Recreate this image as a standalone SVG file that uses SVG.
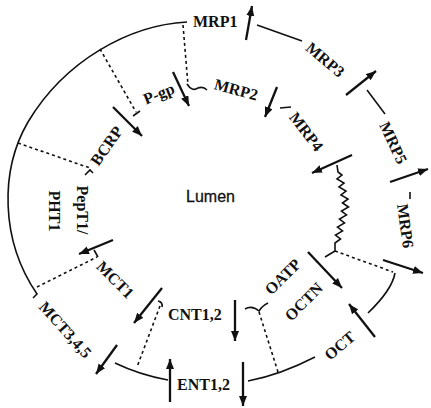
<svg xmlns="http://www.w3.org/2000/svg" width="431" height="408" viewBox="0 0 431 408">
<defs>
<style>
.lbl{font-family:"Liberation Serif","Times New Roman",serif;font-weight:bold;font-size:16px;fill:#111}
.ln{fill:none;stroke:#111;stroke-width:1.6}
.dash{fill:none;stroke:#111;stroke-width:1.6;stroke-dasharray:3 3}
.arr{fill:none;stroke:#111;stroke-width:2.3;marker-end:url(#ah)}
</style>
<marker id="ah" markerUnits="userSpaceOnUse" markerWidth="12" markerHeight="10" refX="10" refY="4" orient="auto">
<path d="M0,0 L10,4 L0,8 Z" fill="#111"/>
</marker>
</defs>
<rect width="431" height="408" fill="#fff"/>
<g id="connectors">
<path class="ln" d="M187,22 C130,25 65,60 28,122 C0,170 0,240 37,294 L33,298"/>
<path class="ln" d="M257,25 L302,41"/>
<path class="ln" d="M367,90 L385,114"/>
<path class="ln" d="M410,192 L410,199"/>
<path class="ln" d="M280,108 L291,107"/>
<path class="ln" d="M395,273 Q392,290 368,313"/>
<path class="ln" d="M315,357 Q280,375 248,381"/>
<path class="ln" d="M115,363 Q140,375 168,380"/>
<path class="dash" d="M100,49 L136,112"/>
<path class="ln" d="M133,116 L140,111"/>
<path class="dash" d="M183,25 L188,85"/>
<path class="ln" d="M187,84 Q192,92 198,88 Q203,86 207,90"/>
<path class="dash" d="M18,143 L90,168"/>
<path class="ln" d="M85,175 L90,170 L93,173"/>
<path class="dash" d="M37,287 L97,257"/>
<path class="ln" d="M94,250 L98,257"/>
<path class="dash" d="M160,306 L137,367"/>
<path class="ln" d="M158,301 Q163,302 162,307"/>
<path class="dash" d="M259,312 L278,372"/>
<path class="ln" d="M245,309 Q252,305 259,311 Q262,306 268,303"/>
<path class="dash" d="M335,251 L393,272"/>
<path class="ln" d="M337,165 L338,172 L342,175 L337,179 L344,183 L339,187 L346,191 L341,195 L348,199 L342.5,203 L348.5,207 L341.5,211 L346.5,215 L339.5,219 L344.5,223 L337.5,227 L342.5,231 L335.5,235 L340.5,239 L335,243 L335,251 L325,257"/>
<path class="arr" d="M246,40 L252,6"/>
<path class="arr" d="M346,95 L376,71"/>
<path class="arr" d="M390,182 L428,169"/>
<path class="arr" d="M383,260 L423,273"/>
<path class="arr" d="M375,337 L349,304"/>
<path class="arr" d="M308,252 L342,288"/>
<path class="arr" d="M352,155 L312,173"/>
<path class="arr" d="M277,87 L265,117"/>
<path class="arr" d="M173,72 L189,106"/>
<path class="arr" d="M113,107 L142,136"/>
<path class="arr" d="M113,240 L79,254"/>
<path class="arr" d="M162,288 L134,323"/>
<path class="arr" d="M117,345 L96,374"/>
<path class="arr" d="M235,300 L235,341"/>
<path class="arr" d="M170,402 L170,359"/>
<path class="arr" d="M243,362 L243,406"/>
</g>
<g id="lumen"><text x="186" y="202" font-family="Liberation Sans, Arial, sans-serif" font-size="16" fill="#111" stroke="#111" stroke-width="0.3">Lumen</text></g>
<g id="MRP1"><text class="lbl" x="193" y="27">MRP1</text></g>
<g id="MRP3"><text class="lbl" text-anchor="middle" dy="5" transform="translate(325,60) rotate(40)">MRP3</text></g>
<g id="MRP5"><text class="lbl" text-anchor="middle" dy="5" transform="translate(393,143) rotate(65)">MRP5</text></g>
<g id="MRP6"><text class="lbl" text-anchor="middle" dy="5" transform="translate(405,226) rotate(82)">MRP6</text></g>
<g id="MRP4"><text class="lbl" text-anchor="middle" dy="5" transform="translate(306,132) rotate(52)">MRP4</text></g>
<g id="MRP2"><text class="lbl" text-anchor="middle" dy="5" transform="translate(236,90) rotate(15)">MRP2</text></g>
<g id="Pgp"><text class="lbl" text-anchor="middle" dy="5" transform="translate(159,94) rotate(-22)">P-gp</text></g>
<g id="BCRP"><text class="lbl" text-anchor="middle" dy="5" transform="translate(107,146) rotate(-55)">BCRP</text></g>
<g id="PepT1"><text class="lbl" text-anchor="middle" dy="5" transform="translate(82,210) rotate(90)">PepT1/</text></g>
<g id="PHT1"><text class="lbl" text-anchor="middle" dy="5" transform="translate(54,211) rotate(90)">PHT1</text></g>
<g id="MCT1"><text class="lbl" text-anchor="middle" dy="5" transform="translate(115,280) rotate(45)">MCT1</text></g>
<g id="MCT345"><text class="lbl" text-anchor="middle" dy="5" transform="translate(65,330) rotate(48)">MCT3,4,5</text></g>
<g id="CNT12"><text class="lbl" x="168" y="320">CNT1,2</text></g>
<g id="ENT12"><text class="lbl" x="177" y="390">ENT1,2</text></g>
<g id="OATP"><text class="lbl" text-anchor="middle" dy="5" transform="translate(283,277) rotate(-45)">OATP</text></g>
<g id="OCTN"><text class="lbl" text-anchor="middle" dy="5" transform="translate(304,302) rotate(-45)">OCTN</text></g>
<g id="OCT"><text class="lbl" text-anchor="middle" dy="5" transform="translate(340,346) rotate(-40)">OCT</text></g>
</svg>
